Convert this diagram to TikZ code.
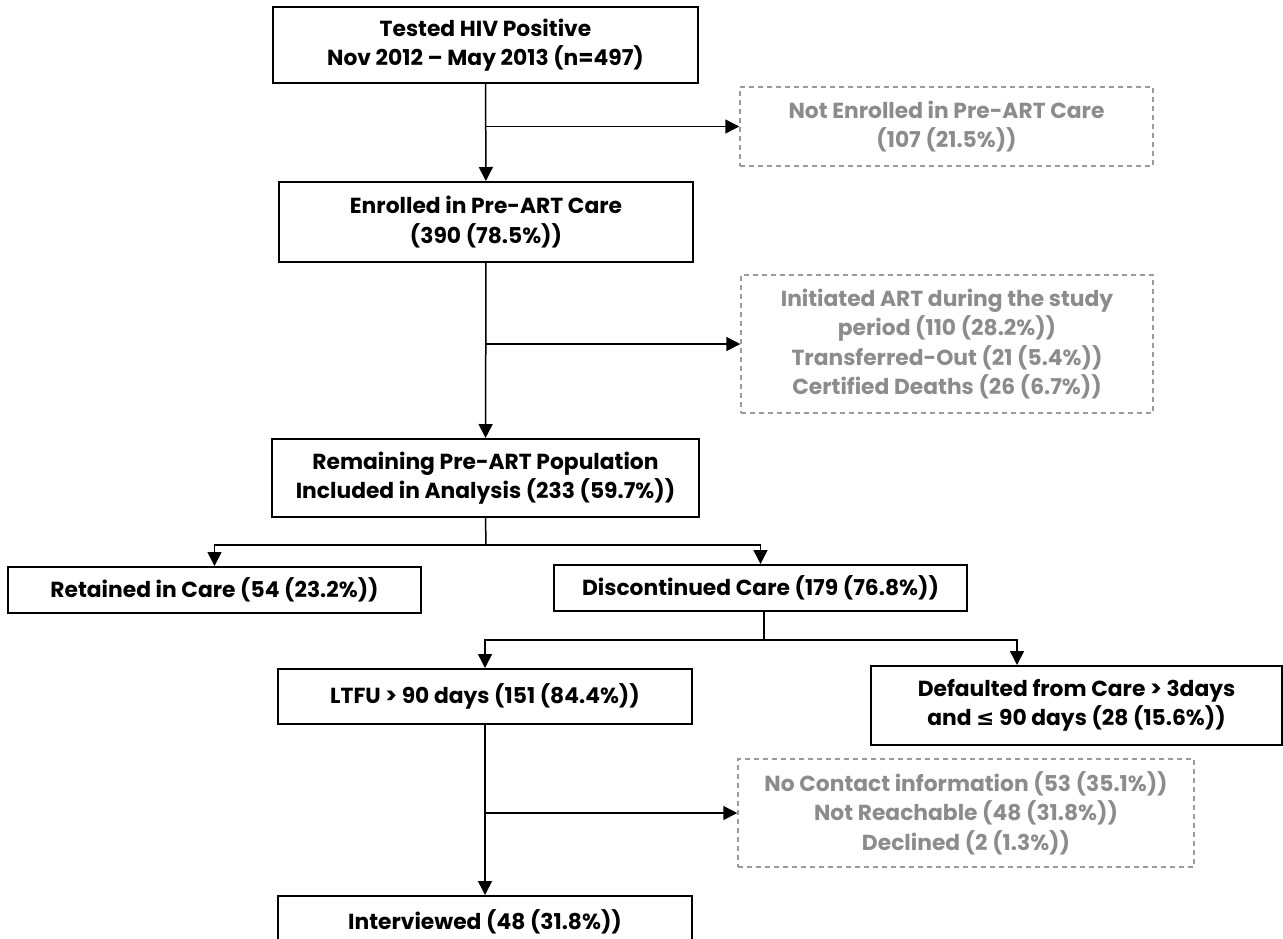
\documentclass[tikz,border=0pt]{standalone}
\usepackage{fontspec}
\setmainfont{Poppins}
\newfontfamily\symfont{DejaVu Sans}
\usepackage{xcolor}
\usetikzlibrary{arrows.meta}
\definecolor{fadegray}{HTML}{8C8C8C}
\definecolor{dashgray}{HTML}{9A9A9A}
\tikzset{
  box/.style={draw,line width=1pt,align=center,inner sep=0pt,font=\flowfont},
  dbox/.style={draw=dashgray,line width=0.75pt,dash pattern=on 2.5pt off 2pt,
    text=fadegray,align=center,inner sep=0pt,font=\flowfont},
  arr/.style={line width=0.75pt,-{Triangle[width=7pt,length=7pt]}},
  link/.style={line width=0.75pt}
}
\newcommand{\flowfont}{\fontsize{10.9}{14.75}\selectfont\bfseries}
\begin{document}
\begin{tikzpicture}[x=0.5pt,y=-0.5pt]
\useasboundingbox (0,0) rectangle (1283,938);

\node[box,minimum width=212.5pt,minimum height=38pt] (tested) at (485.5,45)
  {Tested HIV Positive\\Nov 2012 -- May 2013 (n=497)};
\node[dbox,minimum width=206.5pt,minimum height=39.5pt] (notenrolled) at (946.5,126.5)
  {Not Enrolled in Pre-ART Care\\(107 (21.5\%))};
\node[box,minimum width=207pt,minimum height=40pt] (enrolled) at (486,222)
  {Enrolled in Pre-ART Care\\(390 (78.5\%))};
\node[dbox,minimum width=206pt,minimum height=69pt] (excluded) at (947,344)
  {Initiated ART during the study\\period (110 (28.2\%))\\Transferred-Out (21 (5.4\%))\\Certified Deaths (26 (6.7\%))};
\node[box,minimum width=213.5pt,minimum height=39pt] (remaining) at (485.5,478)
  {Remaining Pre-ART Population\\Included in Analysis (233 (59.7\%))};
\node[box,minimum width=206.5pt,minimum height=23pt] (retained) at (214.5,590)
  {Retained in Care (54 (23.2\%))};
\node[box,minimum width=206.5pt,minimum height=23pt] (discontinued) at (760.5,588)
  {Discontinued Care (179 (76.8\%))};
\node[box,minimum width=207pt,minimum height=27.5pt] (ltfu) at (485,696.5)
  {LTFU > 90 days (151 (84.4\%))};
\node[box,minimum width=205.5pt,minimum height=39.5pt] (defaulted) at (1076.5,705.5)
  {Defaulted from Care > 3days\\and {\symfont ≤} 90 days (28 (15.6\%))};
\node[dbox,minimum width=228pt,minimum height=54pt] (notreached) at (966,813)
  {No Contact information (53 (35.1\%))\\Not Reachable (48 (31.8\%))\\Declined (2 (1.3\%))};
\node[box,minimum width=207pt,minimum height=26pt] (interviewed) at (485,922)
  {Interviewed (48 (31.8\%))};

\coordinate (split1) at (486,545);
\coordinate (split2) at (764,640);

\draw[arr] (tested) -- (enrolled);
\draw[arr] (tested.south |- notenrolled.west) -- (notenrolled.west);
\draw[arr] (enrolled) -- (remaining);
\draw[arr] (enrolled.south |- excluded.west) -- (excluded.west);
\draw[link] (remaining.south) -- (split1);
\draw[arr] (split1) -| (retained.north);
\draw[arr] (split1) -| (discontinued.north);
\draw[link] (split2 |- discontinued.south) -- (split2);
\draw[arr] (split2) -| (ltfu.north);
\draw[arr] (split2) -| ([xshift=-29.75pt]defaulted.north);
\draw[arr] (ltfu) -- (interviewed);
\draw[arr] (ltfu.south |- notreached.west) -- (notreached.west);
\end{tikzpicture}
\end{document}
